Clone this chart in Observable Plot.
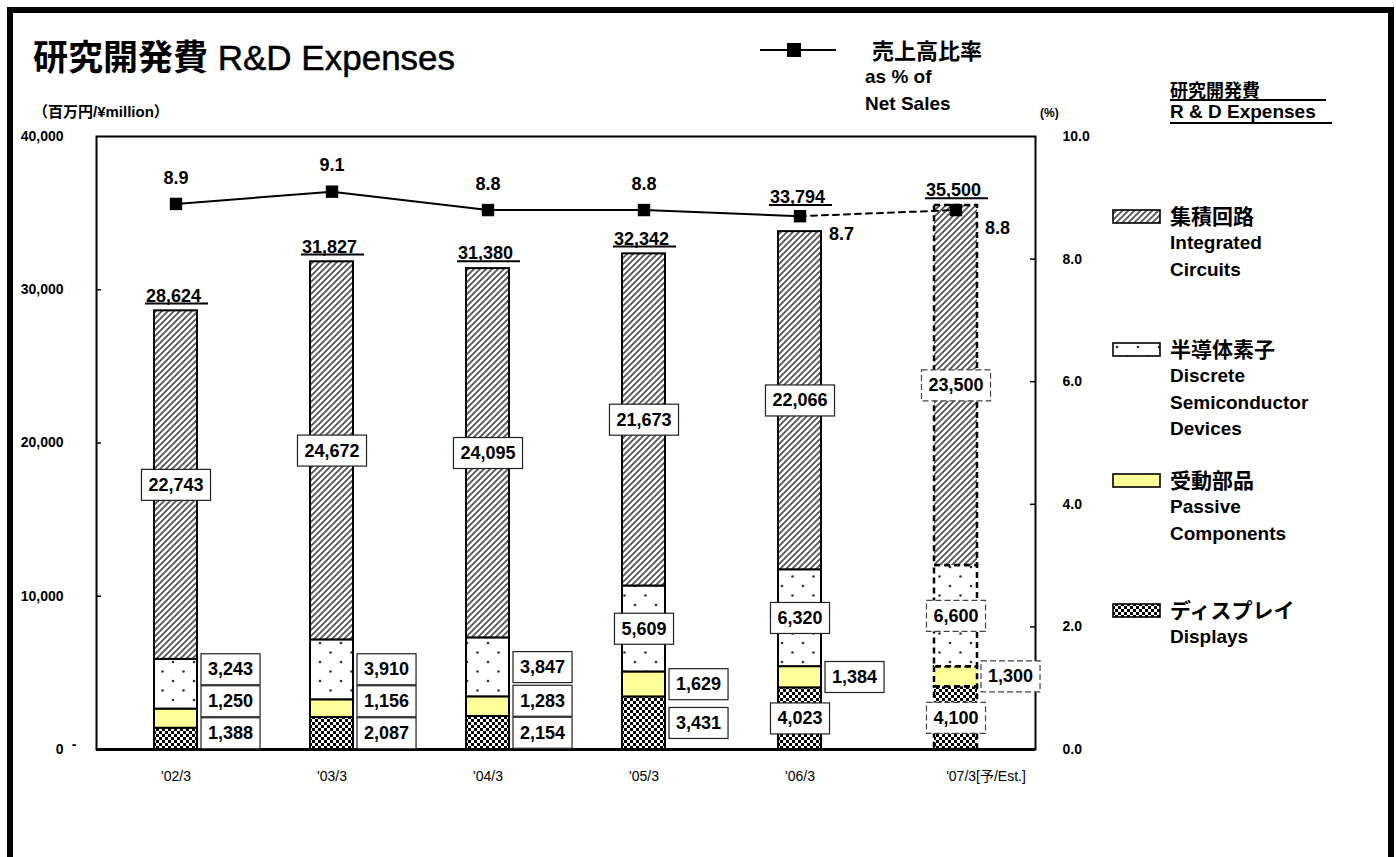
<!DOCTYPE html>
<html><head><meta charset="utf-8">
<script src="https://cdn.jsdelivr.net/npm/d3@7"></script>
<script src="https://cdn.jsdelivr.net/npm/@observablehq/plot@0.6"></script>
<style>
body{margin:0;background:#fff;font-family:"Liberation Sans","Noto Sans CJK JP",sans-serif;}
#page{position:relative;width:1396px;height:857px;overflow:hidden;background:#fff;}
#border{position:absolute;left:7px;top:7px;width:1375px;height:900px;border:6px solid #000;}
.abs{position:absolute;white-space:nowrap;font-weight:bold;color:#000;line-height:1;}
.jp{font-family:"Noto Sans CJK JP",sans-serif;font-weight:bold;}
.ul{display:inline-block;border-bottom:2px solid #000;padding-bottom:1px;}
</style></head>
<body>
<svg width="0" height="0" style="position:absolute">
  <defs>
    <pattern id="hatch" patternUnits="userSpaceOnUse" width="6" height="6">
      <rect width="6" height="6" fill="#fff"/>
      <path d="M-1,1 l2,-2 M0,6 l6,-6 M5,7 l2,-2" stroke="#555" stroke-width="1.8"/>
    </pattern>
    <pattern id="dots" patternUnits="userSpaceOnUse" width="21" height="19">
      <rect width="21" height="19" fill="#fff"/>
      <circle cx="5" cy="5" r="1.3" fill="#333"/>
      <circle cx="15.5" cy="14.5" r="1.3" fill="#333"/>
    </pattern>
    <pattern id="chk" patternUnits="userSpaceOnUse" width="6" height="6">
      <rect width="6" height="6" fill="#000"/>
      <rect x="0" y="0" width="3" height="3" fill="#fff"/>
      <rect x="3" y="3" width="3" height="3" fill="#fff"/>
    </pattern>
  </defs>
</svg>
<div id="page">
  <div id="border"></div>
  <div class="abs" style="left:33px;top:37px;font-size:35px;"><span class="jp">研究開発費</span><span style="font-weight:normal;-webkit-text-stroke:0.5px #000;"> R&amp;D Expenses</span></div>
  <div class="abs" style="left:33px;top:104px;font-size:15px;">（百万円/¥million）</div>

  <svg style="position:absolute;left:758px;top:40px;" width="82" height="20">
    <line x1="2" y1="10" x2="78" y2="10" stroke="#000" stroke-width="2"/>
    <rect x="29" y="3" width="14" height="14" fill="#000"/>
  </svg>
  <div class="abs jp" style="left:872px;top:38px;font-size:22px;">売上高比率</div>
  <div class="abs" style="left:865px;top:67px;font-size:19px;">as % of</div>
  <div class="abs" style="left:865px;top:94px;font-size:19px;">Net Sales</div>
  <div class="abs" style="left:1040px;top:107px;font-size:12px;">(%)</div>

  <div class="abs" style="left:1170px;top:80px;font-size:18px;"><span class="ul jp" style="width:156px;">研究開発費</span></div>
  <div class="abs" style="left:1170px;top:102px;font-size:19px;"><span class="ul" style="width:162px;">R &amp; D Expenses</span></div>

  <div id="legend"></div>
  <div id="chart" style="position:absolute;left:0;top:125px;"></div>
</div>
<script>
// ---------- data ----------
const years = ["'02/3", "'03/3", "'04/3", "'05/3", "'06/3", "'07/3[予/Est.]"];
const icValues = [22743, 24672, 24095, 21673, 22066, 23500];
const discreteValues = [3243, 3910, 3847, 5609, 6320, 6600];
const passiveValues = [1250, 1156, 1283, 1629, 1384, 1300];
const displayValues = [1388, 2087, 2154, 3431, 4023, 4100];
const totalValues = [28624, 31827, 31380, 32342, 33794, 35500];
const ratioValues = [8.9, 9.1, 8.8, 8.8, 8.7, 8.8];
const estimateYear = "'07/3[予/Est.]";
const leftTicks = [0, 10000, 20000, 30000, 40000];
const rightTicks = [0, 2, 4, 6, 8, 10];

// ---------- layout / style (not data) ----------
const seriesKeys = ["displays", "passive", "discrete", "ic"];
const seriesFill = ["url(#chk)", "#ffff99", "url(#dots)", "url(#hatch)"];
const seriesValues = {displays: displayValues, passive: passiveValues, discrete: discreteValues, ic: icValues};
const labelSide = {
  displays: ["right", "right", "right", "right", "center", "center"],
  passive:  ["right", "right", "right", "right", "right", "right"],
  discrete: ["right", "right", "right", "center", "center", "center"],
  ic:       ["center", "center", "center", "center", "center", "center"]
};
const ratioLabelSide = ["top", "top", "top", "top", "right", "right"];

const W = 1100, H = 675;
const M = {top: 11, right: 65, bottom: 51, left: 96};
const frameW = W - M.left - M.right;
const frameH = H - M.top - M.bottom;
const yMax = 40000, rMax = 10, k = yMax / rMax;
const px = yMax / frameH;               // data units per pixel
const boxUnits = 32 * px;
const fmt = d3.format(",");

const rows = [];
const segLabels = [];
years.forEach((yr, i) => {
  let cum = 0, lastRight = -Infinity;
  seriesKeys.forEach(s => {
    const v = seriesValues[s][i];
    rows.push({year: yr, series: s, value: v});
    const side = labelSide[s][i];
    let y = Math.max(cum + v / 2, boxUnits / 2 + (side === "center" ? 6 * px : 0));
    if (side === "right") { y = Math.max(y, lastRight + boxUnits); lastRight = y; }
    segLabels.push({year: yr, y, side, text: fmt(v), est: yr === estimateYear});
    cum += v;
  });
});
const totals = years.map((yr, i) => {
  let y = totalValues[i] + 15 * px;
  const ry = ratioValues[i] * k;
  if (Math.abs(y - ry) < 14 * px) y = ry + 19 * px;
  return {year: yr, y, text: fmt(totalValues[i]) + "\u00a0"};
});
const ratios = years.map((yr, i) => ({year: yr, y: ratioValues[i] * k, text: ratioValues[i].toFixed(1), side: ratioLabelSide[i]}));
const ratiosActual = ratios.filter(d => d.year !== estimateYear);
const ratiosEst = ratios.slice(-2);

const textStyle = {fontSize: 18, fontWeight: "bold", fill: "#000"};

const chart = Plot.plot({
  width: W, height: H,
  marginTop: M.top, marginRight: M.right, marginBottom: M.bottom, marginLeft: M.left,
  style: {fontFamily: "'Liberation Sans','Noto Sans CJK JP',sans-serif", fontSize: "14px", overflow: "visible", background: "transparent"},
  x: {domain: years, paddingInner: 0.725, paddingOuter: 0.3625, label: null},
  y: {domain: [0, yMax], label: null},
  color: {type: "ordinal", domain: seriesKeys, range: seriesFill},
  marks: [
    Plot.frame({stroke: "#000", strokeWidth: 2}),
    Plot.barY(rows.filter(d => d.year !== estimateYear), Plot.stackY({x: "year", y: "value", fill: "series", stroke: "#000", strokeWidth: 2, order: null})),
    Plot.barY(rows.filter(d => d.year === estimateYear), Plot.stackY({x: "year", y: "value", fill: "series", stroke: "#000", strokeWidth: 2.5, strokeDasharray: "6,4", order: null})),
    Plot.ruleY([0], {stroke: "#000", strokeWidth: 3}),
    Plot.ruleY(leftTicks.slice(1, -1), {stroke: "#000", strokeWidth: 1.5, insetRight: frameW - 5}),
    Plot.ruleY(rightTicks.slice(1, -1).map(d => d * k), {stroke: "#000", strokeWidth: 1.5, insetLeft: frameW - 5}),
    Plot.axisY(leftTicks, {anchor: "left", tickSize: 0, tickPadding: 33, fontWeight: "bold", fontSize: 14, label: null, tickFormat: fmt}),
    Plot.axisY([0], {anchor: "left", tickSize: 0, tickPadding: 20, fontWeight: "bold", fontSize: 14, label: null, dy: -5, tickFormat: () => "-"}),
    Plot.axisY(rightTicks.map(d => d * k), {anchor: "right", tickSize: 0, tickPadding: 27, fontWeight: "bold", fontSize: 14, label: null,
      tickFormat: d => (d / k).toFixed(1)}),
    Plot.axisX(years.filter(d => d !== estimateYear), {anchor: "bottom", tickSize: 0, tickPadding: 22, fontSize: 14, label: null}),
    Plot.axisX([estimateYear], {anchor: "bottom", tickSize: 0, tickPadding: 22, fontSize: 14, label: null, dx: 30}),
    Plot.line(ratiosActual, {x: "year", y: "y", stroke: "#000", strokeWidth: 2}),
    Plot.line(ratiosEst, {x: "year", y: "y", stroke: "#000", strokeWidth: 2, strokeDasharray: "6,5"}),
    Plot.dot(ratios, {x: "year", y: "y", symbol: "square", r: 7, fill: "#000", stroke: null}),
    Plot.text(ratios.filter(d => d.side === "top"), {x: "year", y: "y", text: "text", dy: -26, ...textStyle}),
    Plot.text(ratios.filter(d => d.side === "right"), {x: "year", y: "y", text: "text", dx: 29, dy: 18, textAnchor: "start", ...textStyle}),
    Plot.text(totals, {x: "year", y: "y", text: "text", ...textStyle}),
    Plot.text(segLabels.filter(d => d.side === "center"), {x: "year", y: "y", text: "text", textAnchor: "middle", ...textStyle}),
    Plot.text(segLabels.filter(d => d.side === "right"), {x: "year", y: "y", text: "text", dx: 32, textAnchor: "start", ...textStyle})
  ]
});
document.getElementById("chart").appendChild(chart);

// boxes behind segment labels, underline under totals
const NS = "http://www.w3.org/2000/svg";
const estTexts = new Set(segLabels.filter(d => d.est).map(d => d.text));
chart.querySelectorAll("text").forEach(t => {
  const g = t.closest("g[aria-label]");
  if (g && /axis/.test(g.getAttribute("aria-label") || "")) return;
  const s = t.textContent;
  const b = t.getBBox();
  if (/^\d{1,3}(,\d{3})+$/.test(s)) {
    const r = document.createElementNS(NS, "rect");
    r.setAttribute("x", b.x - 7);
    r.setAttribute("y", b.y + b.height / 2 - 15.5);
    r.setAttribute("width", b.width + 14);
    r.setAttribute("height", 31);
    r.setAttribute("fill", "#fff");
    if (estTexts.has(s)) {
      r.setAttribute("stroke", "#444");
      r.setAttribute("stroke-width", 1.2);
      r.setAttribute("stroke-dasharray", "6,3");
    } else {
      r.setAttribute("stroke", "#222");
      r.setAttribute("stroke-width", 1.2);
    }
    if (t.getAttribute("transform")) r.setAttribute("transform", t.getAttribute("transform"));
    t.parentNode.insertBefore(r, t);
  } else if (/\u00a0$/.test(s)) {
    const l = document.createElementNS(NS, "line");
    const yy = b.y + b.height - 2;
    l.setAttribute("x1", b.x - 1);
    l.setAttribute("x2", b.x + b.width + 2);
    l.setAttribute("y1", yy);
    l.setAttribute("y2", yy);
    l.setAttribute("stroke", "#000");
    l.setAttribute("stroke-width", 2);
    if (t.getAttribute("transform")) l.setAttribute("transform", t.getAttribute("transform"));
    t.parentNode.appendChild(l);
  }
});

// right legend
const legendItems = [
  {fill: seriesFill[3], top: 209, jp: "集積回路", en: ["Integrated", "Circuits"]},
  {fill: seriesFill[2], top: 342, jp: "半導体素子", en: ["Discrete", "Semiconductor", "Devices"]},
  {fill: seriesFill[1], top: 473, jp: "受動部品", en: ["Passive", "Components"]},
  {fill: seriesFill[0], top: 603, jp: "ディスプレイ", en: ["Displays"]}
];
const leg = document.getElementById("legend");
legendItems.forEach(it => {
  leg.insertAdjacentHTML("beforeend",
    `<svg style="position:absolute;left:1112px;top:${it.top}px" width="50" height="16"><rect x="1" y="1" width="47" height="13" fill="${it.fill}" stroke="#000" stroke-width="1.6"/></svg>` +
    `<div class="abs jp" style="left:1170px;top:${it.top - 4}px;font-size:21px;">${it.jp}</div>` +
    it.en.map((e, j) => `<div class="abs" style="left:1170px;top:${it.top + 24 + j * 26.5}px;font-size:19px;">${e}</div>`).join(""));
});
</script>
</body></html>
